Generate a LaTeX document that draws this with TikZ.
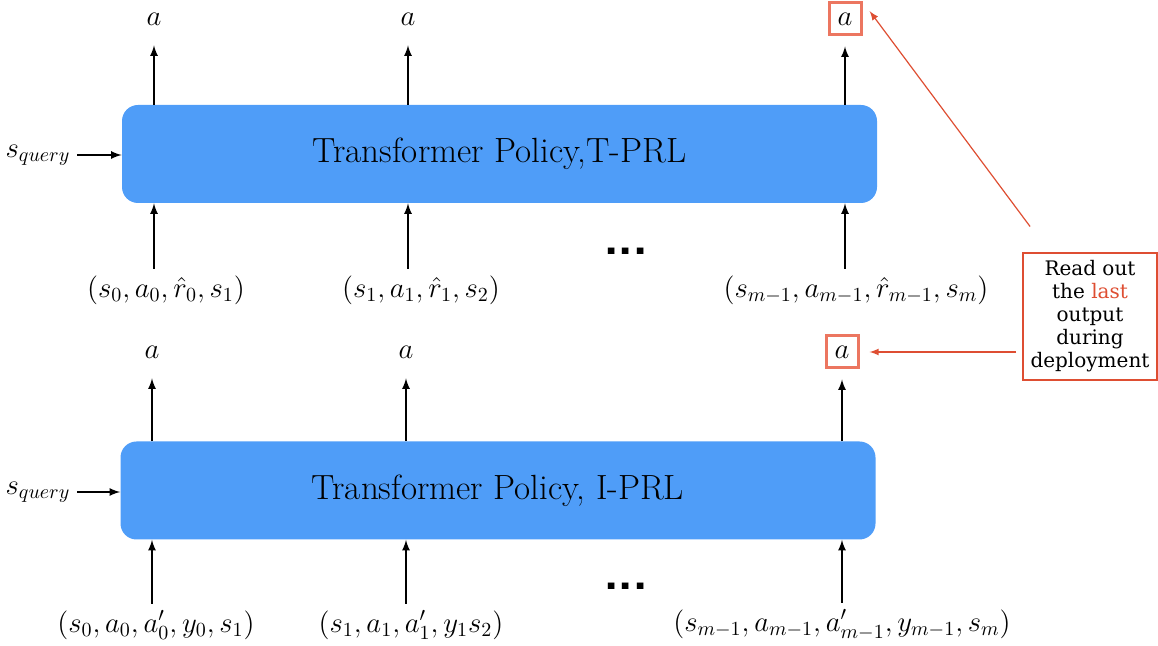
\documentclass[tikz,border=0pt]{standalone}
\usepackage{amsmath}
\usepackage{fontspec}
\usepackage{xcolor}
\usetikzlibrary{arrows}
\usetikzlibrary{calc}

\newfontfamily\notefont{DejaVu Serif}
\newfontfamily\dotfont{TeX Gyre Heros}
\definecolor{policyblue}{RGB}{79,157,248}
\definecolor{notered}{RGB}{222,78,50}
\definecolor{framered}{RGB}{236,118,96}

\tikzset{
  policy/.style={fill=policyblue, rounded corners=8pt, minimum width=377.5pt,
    minimum height=49pt, font=\fontsize{17.5}{20}\selectfont},
  outa/.style={minimum width=16pt, minimum height=16pt, inner sep=0pt,
    font=\fontsize{14.5}{16}\selectfont},
  lastout/.style={draw=framered, line width=1.5pt},
  inlbl/.style={font=\fontsize{14}{16}\selectfont},
  dotsnode/.style={font=\dotfont\bfseries\fontsize{22}{22}\selectfont},
  readnote/.style={draw=notered, line width=0.8pt, minimum width=67pt,
    minimum height=63.5pt, inner sep=1pt, align=center,
    font=\notefont\fontsize{10}{11.5}\selectfont}
}

\begin{document}
\begin{tikzpicture}[x=0.5pt,y=-0.5pt,>=latex]
      \useasboundingbox (0,0) rectangle (1158,646);

      % T-PRL
      \node[policy] (tpol) at (499.5,154) {Transformer Policy,T-PRL};
      \node[outa] (ta1) at (154,19) {$a$};
      \node[outa] (ta2) at (408,19) {$a$};
      \node[outa,lastout] (ta3) at (845,19) {$a$};
      \node[inlbl] (ti1) at (166,290) {$(s_0, a_0, \hat{r}_0, s_1)$};
      \node[inlbl] (ti2) at (421,290) {$(s_1, a_1, \hat{r}_1, s_2)$};
      \node[inlbl] (ti3) at (856,290) {$(s_{m-1}, a_{m-1}, \hat{r}_{m-1}, s_m)$};
      \node[inlbl] (tq) at (38,155) {$s_{query}$};
      \node[dotsnode] (tdots) at (626,251) {.\kern1.2pt.\kern1.2pt.};

      \foreach \i in {1,2,3} {
        \draw[->, line width=0.8pt, shorten >=5pt] (tpol.north -| ta\i) -- (ta\i);
        \draw[->, line width=0.8pt] (ti\i.north -| ta\i) -- (tpol.south -| ta\i);
      }
      \draw[->, line width=0.8pt] (tq) -- (tq -| tpol.west);

      % I-PRL
      \node[policy] (ipol) at (498,490.5) {Transformer Policy, I-PRL};
      \node[outa] (ba1) at (152,352) {$a$};
      \node[outa] (ba2) at (406,352) {$a$};
      \node[outa,lastout] (ba3) at (842,352) {$a$};
      \node[inlbl] (bi1) at (156,625) {$(s_0, a_0, a'_0, y_0, s_1)$};
      \node[inlbl] (bi2) at (411,625) {$(s_1, a_1, a'_1, y_1s_2)$};
      \node[inlbl] (bi3) at (842,625) {$(s_{m-1}, a_{m-1}, a'_{m-1}, y_{m-1}, s_m)$};
      \node[inlbl] (bq) at (38,492) {$s_{query}$};
      \node[dotsnode] (bdots) at (626,586) {.\kern1.2pt.\kern1.2pt.};

      \foreach \i in {1,2,3} {
        \draw[->, line width=0.8pt, shorten >=5pt] (ipol.north -| ba\i) -- (ba\i);
        \draw[->, line width=0.8pt] (bi\i.north -| ba\i) -- (ipol.south -| ba\i);
      }
      \draw[->, line width=0.8pt] (bq) -- (bq -| ipol.west);

      % read out note
      \node[readnote] (note) at (1090,316.5)
        {Read out\\the \textcolor{notered}{last}\\output\\during\\deployment};
      \draw[->, notered, line width=0.6pt, shorten <=16pt, shorten >=6pt]
        ([xshift=13.5pt]note.north west) -- (ta3.north east);
      \draw[->, notered, line width=0.6pt, shorten <=3pt, shorten >=5pt]
        (note.west |- ba3) -- (ba3.east);
    \end{tikzpicture}
\end{document}
